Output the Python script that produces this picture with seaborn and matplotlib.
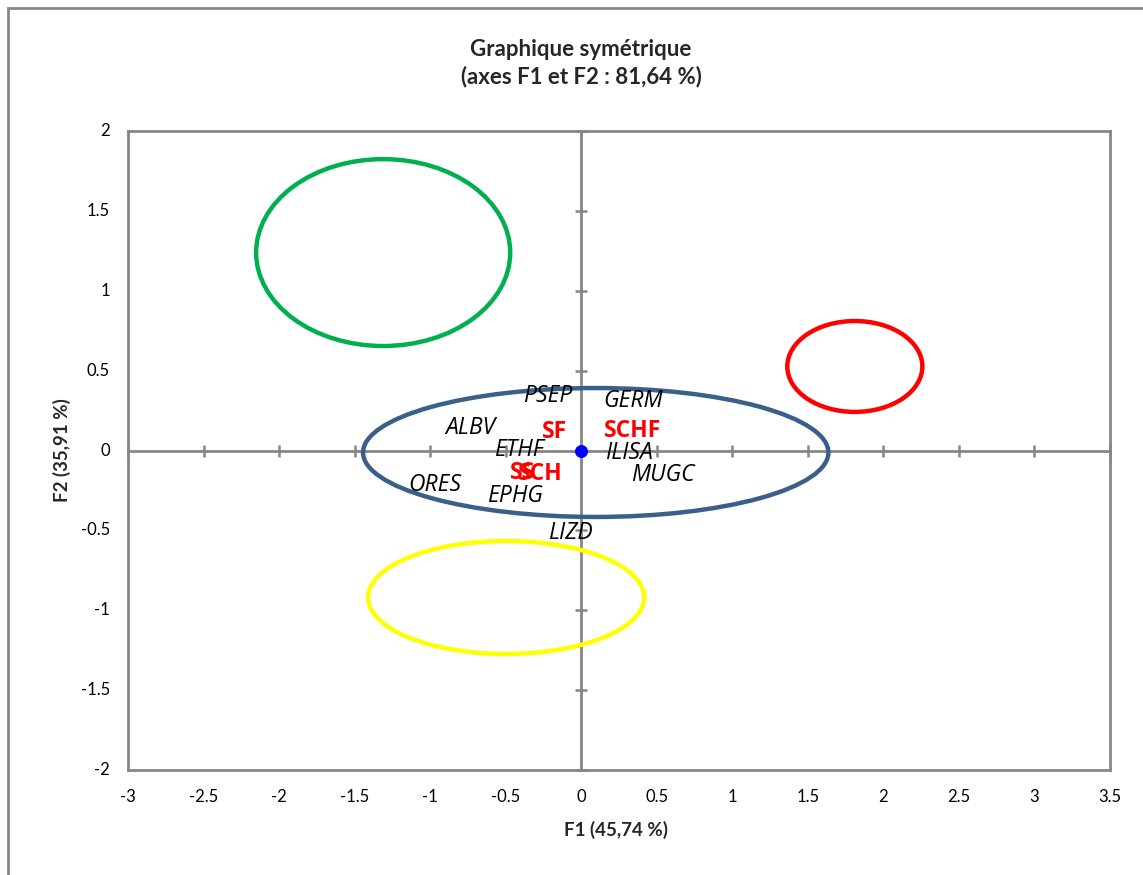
import matplotlib
matplotlib.use("Agg")
import matplotlib.pyplot as plt
import seaborn as sns
import pandas as pd
from matplotlib.patches import Ellipse, Rectangle

sns.set_theme(style="white")
plt.rcParams['font.family'] = ['Lato', 'DejaVu Sans']

# Variable labels (black italic)
var_names = ["PSEP", "GERM", "ALBV", "ETHF", "ILISA", "MUGC", "ORES", "EPHG", "LIZD"]
var_x = [-0.225, 0.344, -0.735, -0.41, 0.318, 0.543, -0.97, -0.44, -0.073]
var_y = [0.341, 0.31, 0.141, 0.0, -0.016, -0.152, -0.216, -0.285, -0.516]

# Observation labels (red bold)
obs_names = ["SF", "SCHF", "SS", "SCH"]
obs_x = [-0.179, 0.338, -0.391, -0.272]
obs_y = [0.115, 0.125, -0.14, -0.148]

# Origin point
origin_x = [0.0]
origin_y = [0.0]

# Group ellipses: centre x, centre y, width, height, colour
ell_cx = [-1.311, 1.811, 0.096, -0.497]
ell_cy = [1.239, 0.526, -0.0125, -0.92]
ell_w = [1.682, 0.894, 3.08, 1.828]
ell_h = [1.17, 0.569, 0.807, 0.707]
ell_colors = ["#00B050", "#FF0000", "#3A5F8B", "#FFFF00"]

x_ticks = [-3, -2.5, -2, -1.5, -1, -0.5, 0, 0.5, 1, 1.5, 2, 2.5, 3, 3.5]
y_ticks = [-2, -1.5, -1, -0.5, 0, 0.5, 1, 1.5, 2]

fig = plt.figure(figsize=(11.43, 8.75), dpi=100)
ax = fig.add_axes([128/1143, 1 - 770/875, (1110 - 128)/1143, (770 - 131)/875])
ax.set_xlim(-3, 3.5)
ax.set_ylim(-2, 2)

gray = "#868686"
ax.axhline(0, color=gray, lw=2, zorder=1)
ax.axvline(0, color=gray, lw=2, zorder=1)
# tick marks on the crossing axes
ax.plot(x_ticks, [0]*len(x_ticks), ls="none", marker="|", ms=9, mew=1.8, color=gray, zorder=1, clip_on=False)
ax.plot([0]*len(y_ticks), y_ticks, ls="none", marker="_", ms=9, mew=1.8, color=gray, zorder=1, clip_on=False)

for cx, cy, w, h, c in zip(ell_cx, ell_cy, ell_w, ell_h, ell_colors):
    ax.add_patch(Ellipse((cx, cy), w, h, fill=False, ec=c, lw=3.2, zorder=2))

df = pd.DataFrame({"x": origin_x, "y": origin_y})
sns.scatterplot(data=df, x="x", y="y", ax=ax, color="#0000FF", marker="o", s=75,
                edgecolor="#0000FF", zorder=4, legend=False)

for n, x, y in zip(var_names, var_x, var_y):
    ax.text(x, y, n, ha="center", va="center", fontsize=16.5, style="italic",
            color="black", family=["Open Sans", "DejaVu Sans"], zorder=5)
for n, x, y in zip(obs_names, obs_x, obs_y):
    ax.text(x, y, n, ha="center", va="center", fontsize=16.5, fontweight="bold",
            color="#FF0000", family=["Open Sans", "DejaVu Sans"], zorder=5)

ax.set_xticks(x_ticks)
ax.set_yticks(y_ticks)
ax.set_xticklabels([f"{t:g}" for t in x_ticks])
ax.set_yticklabels([f"{t:g}" for t in y_ticks])
ax.tick_params(axis="both", length=0, labelsize=12, colors="black")
ax.tick_params(axis="x", pad=14)
ax.tick_params(axis="y", pad=13)
for lbl in ax.get_yticklabels():
    lbl.set_verticalalignment("center")
for s in ax.spines.values():
    s.set_color(gray)
    s.set_linewidth(2)
ax.set_xlabel("F1 (45,74 %)", fontsize=13.5, fontweight="bold")
ax.set_ylabel("F2 (35,91 %)", fontsize=13.5, fontweight="bold")
ax.xaxis.set_label_coords((616 - 128) / 982, -(830 - 770) / 639)
ax.yaxis.set_label_coords((62 - 128) / 982, 0.5)
ax.xaxis.label.set_verticalalignment("center")
ax.yaxis.label.set_verticalalignment("center")

fig.text(581/1143, 1 - 63/875, "Graphique symétrique\n(axes F1 et F2 : 81,64 %)",
         ha="center", va="center", fontsize=16, fontweight="bold", linespacing=1.35)

fig.patches.append(Rectangle((8/1143, -0.2), 1.2, 1.2 - 8/875, transform=fig.transFigure,
                             fill=False, ec=gray, lw=2, clip_on=False))

fig.savefig("out.png", dpi=100)
